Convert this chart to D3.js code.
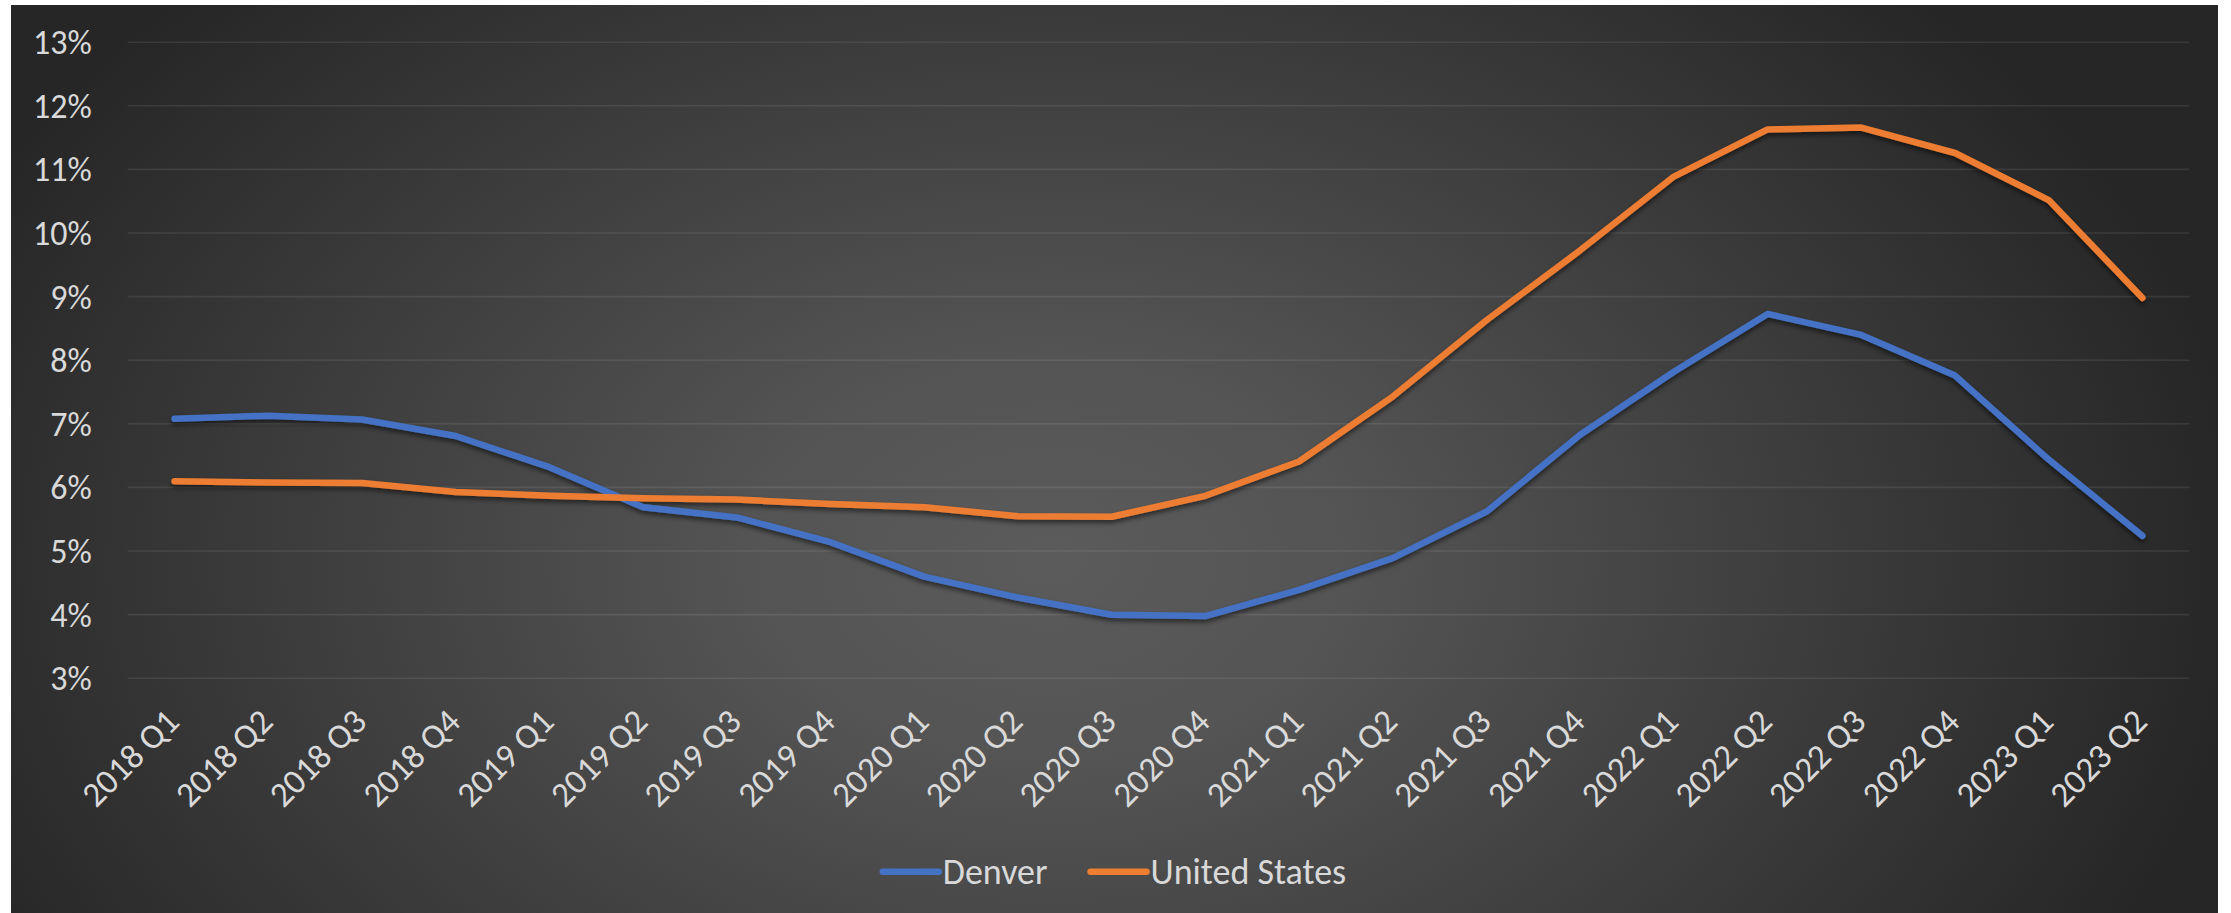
<!DOCTYPE html>
<html>
<head>
<meta charset="utf-8">
<script src="https://cdn.jsdelivr.net/npm/d3@7"></script>
<style>
  html, body { margin: 0; padding: 0; background: #ffffff; }
  svg { display: block; }
  text { font-family: Carlito, Lato, "Open Sans", sans-serif; }
</style>
</head>
<body>
<svg id="chart" width="2231" height="913"></svg>
<script>
const categories = [
  "2018 Q1","2018 Q2","2018 Q3","2018 Q4",
  "2019 Q1","2019 Q2","2019 Q3","2019 Q4",
  "2020 Q1","2020 Q2","2020 Q3","2020 Q4",
  "2021 Q1","2021 Q2","2021 Q3","2021 Q4",
  "2022 Q1","2022 Q2","2022 Q3","2022 Q4",
  "2023 Q1","2023 Q2"
];
const denver = [
  7.07, 7.12, 7.06, 6.80,
  6.31, 5.68, 5.52, 5.13,
  4.59, 4.26, 3.99, 3.97,
  4.38, 4.88, 5.61, 6.82,
  7.81, 8.72, 8.39, 7.75,
  6.43, 5.23
];
const unitedStates = [
  6.09, 6.07, 6.06, 5.92,
  5.86, 5.82, 5.80, 5.73,
  5.68, 5.54, 5.53, 5.86,
  6.40, 7.42, 8.62, 9.72,
  10.88, 11.62, 11.65, 11.25,
  10.51, 8.97
];
const yTicks = [3, 4, 5, 6, 7, 8, 9, 10, 11, 12, 13];
const seriesNames = ["Denver", "United States"];
const seriesColors = ["#4472C4", "#ED7D31"];

const svg = d3.select("#chart");

const area = { x0: 11, y0: 5, x1: 2218, y1: 913 };
const plot = { left: 127.7, right: 2189.3, top: 41.7, bottom: 677.7 };

const defs = svg.append("defs");
const grad = defs.append("radialGradient")
  .attr("id", "bg")
  .attr("gradientUnits", "userSpaceOnUse")
  .attr("cx", 1050).attr("cy", 560).attr("r", 1200)
  .attr("gradientTransform", "translate(1050,560) scale(1,0.68) translate(-1050,-560)");
grad.append("stop").attr("offset", 0).attr("stop-color", "#5b5b5b");
grad.append("stop").attr("offset", 0.25).attr("stop-color", "#545454");
grad.append("stop").attr("offset", 1).attr("stop-color", "#262626");

const shadow = defs.append("filter").attr("id", "shadow")
  .attr("x", "-5%").attr("y", "-20%").attr("width", "110%").attr("height", "140%");
shadow.append("feDropShadow")
  .attr("dx", 0).attr("dy", 3).attr("stdDeviation", 2.5)
  .attr("flood-color", "#000").attr("flood-opacity", 0.55);

svg.append("rect")
  .attr("x", area.x0).attr("y", area.y0)
  .attr("width", area.x1 - area.x0).attr("height", area.y1 - area.y0)
  .attr("fill", "url(#bg)");

const x = d3.scalePoint().domain(categories).range([plot.left, plot.right]).padding(0.5);
const y = d3.scaleLinear().domain([3, 13]).range([plot.bottom, plot.top]);

// gridlines
const grid = svg.append("g")
  .attr("transform", `translate(${plot.left},0)`)
  .call(d3.axisLeft(y).tickValues(yTicks).tickSize(-(plot.right - plot.left)).tickFormat(""));
grid.select(".domain").remove();
grid.selectAll(".tick line")
  .attr("stroke", "rgba(255,255,255,0.085)")
  .attr("stroke-width", 1.6);

// y axis labels
const yAxis = svg.append("g")
  .attr("transform", `translate(${plot.left},0)`)
  .call(d3.axisLeft(y).tickValues(yTicks).tickSize(0).tickPadding(36).tickFormat(d => d + "%"));
yAxis.select(".domain").remove();
yAxis.selectAll("text")
  .attr("fill", "#d9d9d9")
  .style("font-size", "34px")
  .attr("dy", "0.35em");

// x axis labels
const xAxis = svg.append("g")
  .attr("transform", `translate(0,${plot.bottom})`)
  .call(d3.axisBottom(x).tickSize(0).tickPadding(0));
xAxis.select(".domain").remove();
xAxis.selectAll(".tick text")
  .attr("fill", "#d9d9d9")
  .style("font-size", "35px")
  .attr("text-anchor", "end")
  .attr("dy", null)
  .attr("y", null)
  .attr("transform", "translate(6,46) rotate(-45)");

// lines
const line = d3.line().x((d, i) => x(categories[i])).y(d => y(d));
const seriesData = [denver, unitedStates];
svg.append("g").attr("filter", "url(#shadow)")
  .selectAll("path")
  .data(seriesData)
  .join("path")
  .attr("d", d => line(d))
  .attr("fill", "none")
  .attr("stroke", (d, i) => seriesColors[i])
  .attr("stroke-width", 6.5)
  .attr("stroke-linejoin", "round")
  .attr("stroke-linecap", "round");

// legend
const legend = svg.append("g");
const legendY = 871.7;
const symLen = 56, symGap = 4, gapBetween = 43;
let cursor = 0;
const items = legend.selectAll("g.item").data(seriesNames).join("g").attr("class", "item");
items.append("line")
  .attr("x1", 0).attr("x2", symLen)
  .attr("y1", 0).attr("y2", 0)
  .attr("stroke", (d, i) => seriesColors[i])
  .attr("stroke-width", 6.5)
  .attr("stroke-linecap", "round");
items.append("text")
  .attr("x", symLen + symGap)
  .attr("y", 0)
  .attr("dy", "0.35em")
  .attr("fill", "#d9d9d9")
  .style("font-size", "36px")
  .text(d => d);
items.each(function () {
  const g = d3.select(this);
  const w = symLen + symGap + g.select("text").node().getComputedTextLength();
  g.attr("transform", `translate(${cursor},${legendY})`);
  cursor += w + gapBetween;
});
const totalW = cursor - gapBetween;
const centerX = (area.x0 + area.x1) / 2;
legend.attr("transform", `translate(${centerX - totalW / 2},0)`);
</script>
</body>
</html>
